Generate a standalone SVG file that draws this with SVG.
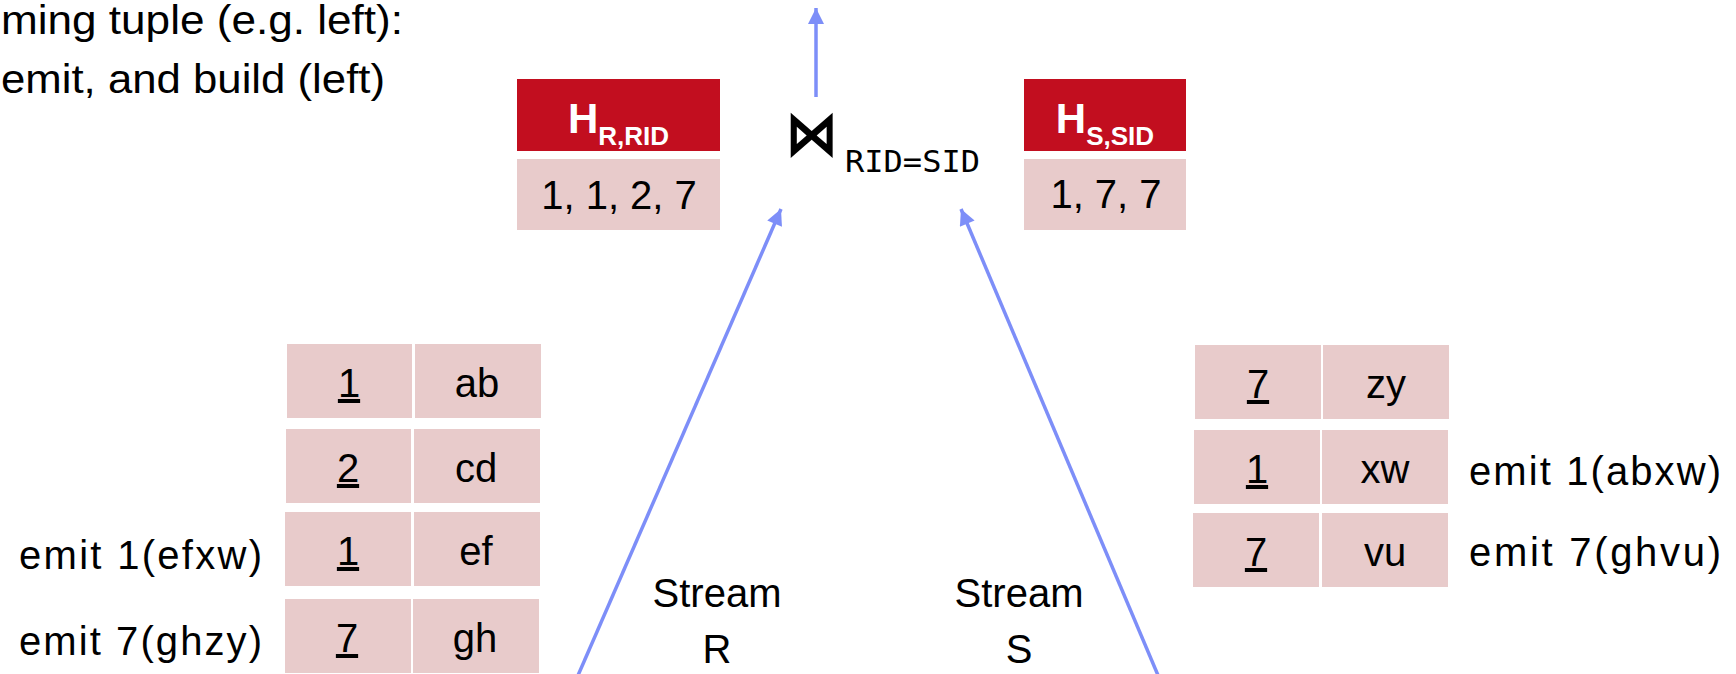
<svg xmlns="http://www.w3.org/2000/svg" width="1736" height="674" viewBox="0 0 1736 674">
<style>
  .t { font-family: "Liberation Sans", Arial, sans-serif; font-size: 40px; fill: #000; }
  .c { text-anchor: middle; }
  .e { text-anchor: end; }
  .u { text-decoration: underline; }
  .hdr { fill: #c20e1f; }
  .cell { fill: #e8cbcb; }
  .ht { font-family: "Liberation Sans", Arial, sans-serif; font-weight: bold; fill: #fff; text-anchor: middle; font-size: 42px; }
  .sub { font-size: 26px; }
  .mono { font-family: "DejaVu Sans Mono", "Liberation Mono", monospace; font-size: 30px; fill: #000; }
  .edge { stroke: #7d8ef8; stroke-width: 3.5; fill: none; }
</style>
<defs>
  <marker id="ah" viewBox="0 0 10 10" refX="10" refY="5" markerWidth="25" markerHeight="16" markerUnits="userSpaceOnUse" orient="auto">
    <path d="M0,0 L10,5 L0,10 z" fill="#7d8ef8"/>
  </marker>
</defs>

<g id="caption">
  <text class="t" x="1" y="34" font-size="45" textLength="402" lengthAdjust="spacingAndGlyphs">ming tuple (e.g. left):</text>
  <text class="t" x="1" y="93" font-size="45" textLength="384" lengthAdjust="spacingAndGlyphs">emit, and build (left)</text>
</g>

<g id="connectors">
  <line class="edge" x1="816" y1="97" x2="816" y2="8" marker-end="url(#ah)"/>
  <line class="edge" x1="576" y1="680" x2="781" y2="209" marker-end="url(#ah)"/>
  <line class="edge" x1="1160" y1="680" x2="961" y2="209" marker-end="url(#ah)"/>
</g>

<g id="join">
  <text transform="translate(785,155) scale(0.95,1.12)" x="0" y="0" font-family="DejaVu Sans, sans-serif" font-weight="bold" font-size="56" fill="#000">⋈</text>
  <text class="mono" x="845" y="172" textLength="135" lengthAdjust="spacingAndGlyphs">RID=SID</text>
</g>

<g id="hashR">
  <rect class="hdr" x="517" y="79" width="203" height="72"/>
  <text class="ht" x="618.5" y="133">H<tspan class="sub" dy="12">R,RID</tspan></text>
  <rect class="cell" x="517" y="159" width="203" height="71"/>
  <text class="t c" x="619" y="209" font-size="43">1, 1, 2, 7</text>
</g>

<g id="hashS">
  <rect class="hdr" x="1024" y="79" width="162" height="72"/>
  <text class="ht" x="1105" y="133">H<tspan class="sub" dy="12">S,SID</tspan></text>
  <rect class="cell" x="1024" y="159" width="162" height="71"/>
  <text class="t c" x="1106" y="208" font-size="43">1, 7, 7</text>
</g>

<g id="streamR-label">
  <text class="t c" x="717" y="607" font-size="43">Stream</text>
  <text class="t c" x="717" y="663" font-size="43">R</text>
</g>
<g id="streamS-label">
  <text class="t c" x="1019" y="607" font-size="43">Stream</text>
  <text class="t c" x="1019" y="663" font-size="43">S</text>
</g>

<g id="tableR">
  <rect class="cell" x="287" y="344" width="125" height="74"/>
  <rect class="cell" x="415" y="344" width="126" height="74"/>
  <text class="t c u" x="349" y="397">1</text>
  <text class="t c" x="477" y="397">ab</text>

  <rect class="cell" x="286" y="429" width="125" height="74"/>
  <rect class="cell" x="414" y="429" width="126" height="74"/>
  <text class="t c u" x="348" y="482">2</text>
  <text class="t c" x="476" y="482">cd</text>

  <rect class="cell" x="285" y="512" width="126" height="74"/>
  <rect class="cell" x="414" y="512" width="126" height="74"/>
  <text class="t c u" x="348" y="565">1</text>
  <text class="t c" x="476" y="565">ef</text>
  <text class="t e" x="262" y="569" font-size="42" textLength="243">emit 1(efxw)</text>

  <rect class="cell" x="285" y="599" width="126" height="74"/>
  <rect class="cell" x="413" y="599" width="126" height="74"/>
  <text class="t c u" x="347" y="652">7</text>
  <text class="t c" x="475" y="652">gh</text>
  <text class="t e" x="262" y="655" font-size="42" textLength="243">emit 7(ghzy)</text>
</g>

<g id="tableS">
  <rect class="cell" x="1195" y="345" width="126" height="74"/>
  <rect class="cell" x="1323" y="345" width="126" height="74"/>
  <text class="t c u" x="1258" y="398">7</text>
  <text class="t c" x="1386" y="398">zy</text>

  <rect class="cell" x="1194" y="430" width="126" height="74"/>
  <rect class="cell" x="1322" y="430" width="126" height="74"/>
  <text class="t c u" x="1257" y="483">1</text>
  <text class="t c" x="1385" y="483">xw</text>
  <text class="t" x="1469" y="485" font-size="42" textLength="252">emit 1(abxw)</text>

  <rect class="cell" x="1193" y="513" width="126" height="74"/>
  <rect class="cell" x="1322" y="513" width="126" height="74"/>
  <text class="t c u" x="1256" y="566">7</text>
  <text class="t c" x="1385" y="566">vu</text>
  <text class="t" x="1469" y="566" font-size="42" textLength="252">emit 7(ghvu)</text>
</g>
</svg>
